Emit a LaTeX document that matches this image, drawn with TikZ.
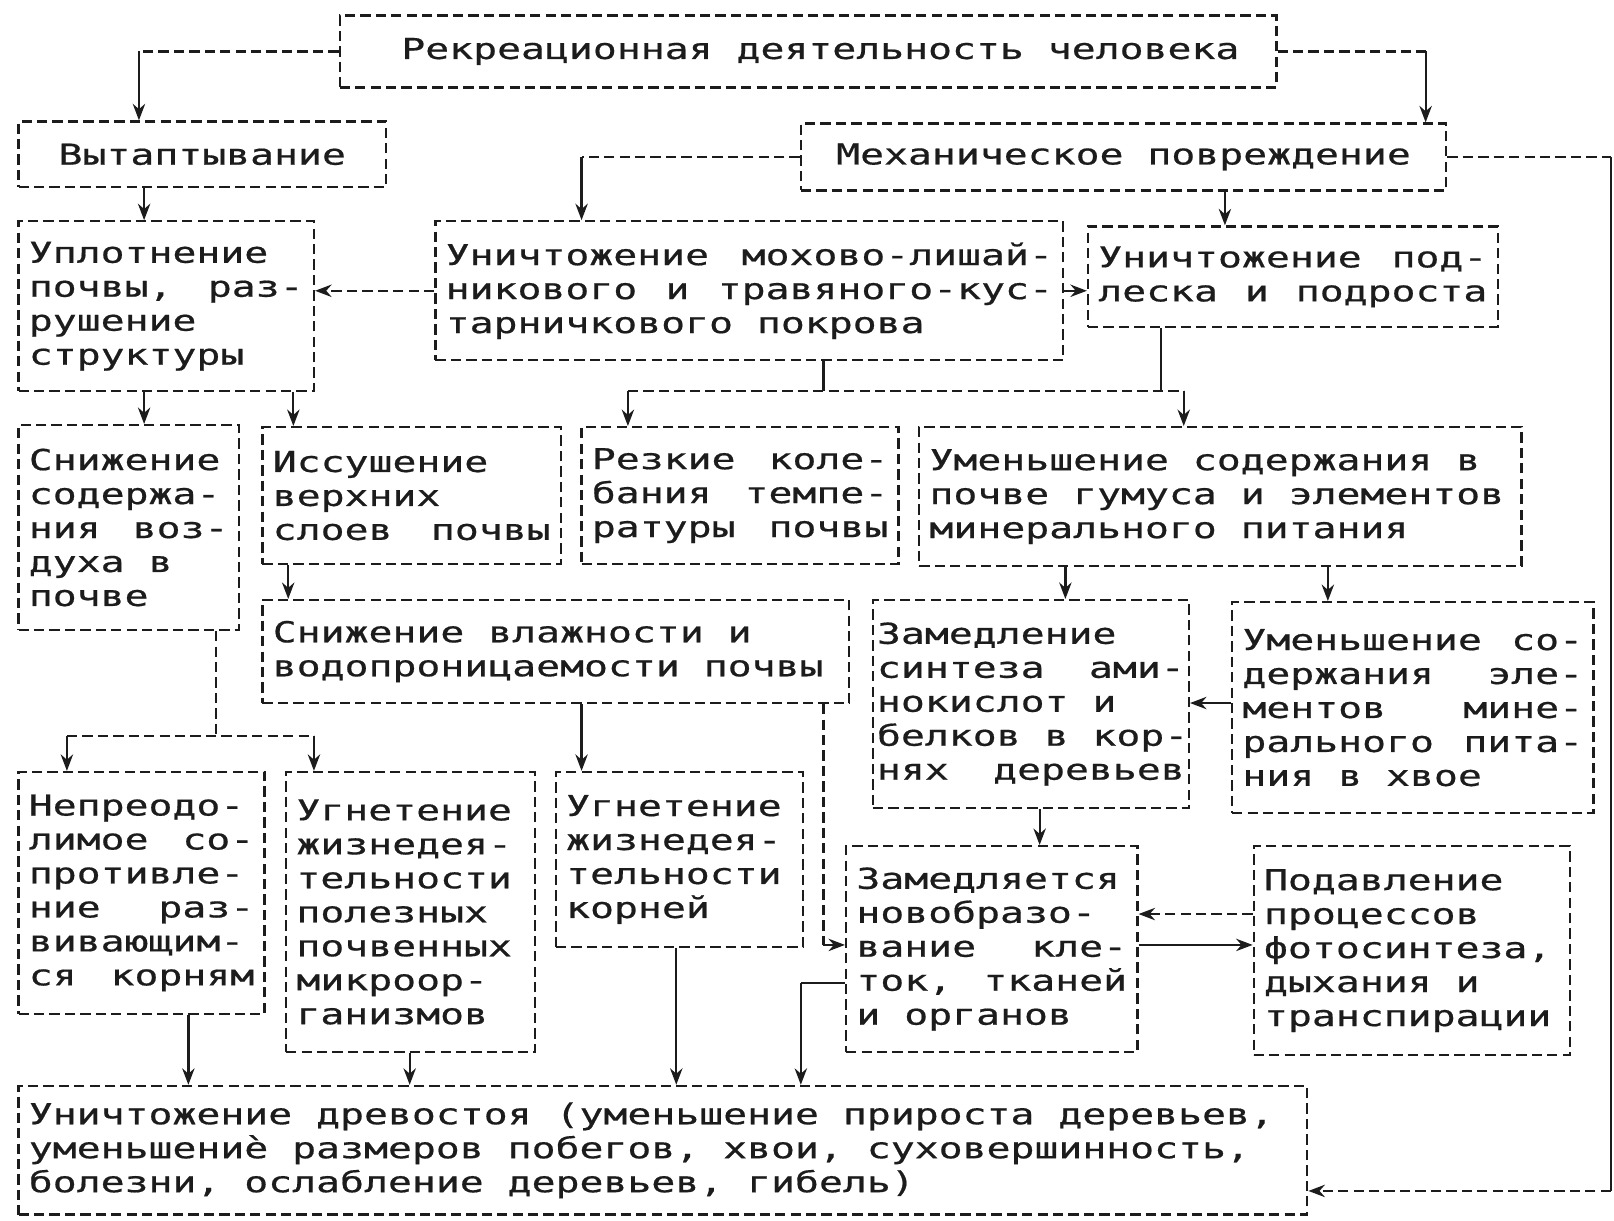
\documentclass[tikz,border=0pt]{standalone}
\usepackage{fontspec}
\newfontfamily\monofam[FakeStretch=1.38,FakeBold=0.6]{DejaVu Sans Mono}
\usetikzlibrary{arrows.meta}
\definecolor{ink}{HTML}{1C1C1C}
\newcommand\boxfont{\monofam\fontsize{14pt}{16.5pt}\selectfont}
\newcommand\setsp{\spaceskip=\fontcharwd\font`\a\relax\xspaceskip=\spaceskip}
\newcommand\J[1]{\noindent\hbox to \linewidth{\spaceskip=\fontcharwd\font`\a plus 1fil\relax\xspaceskip=\spaceskip #1}}
\begin{document}
\begin{tikzpicture}[x=0.5pt,y=-0.5pt,
  box/.style={draw=ink, line width=1.1pt, dash pattern=on 5pt off 2.5pt,
    inner xsep=5pt, inner ysep=0pt, text=ink, align=left, font=\boxfont,
    execute at begin node=\setsp},
  cbox/.style={box, align=center},
  bx/.style n args={3}{minimum width=#1pt, minimum height=#2pt, text width=#3pt},
  cb/.style n args={2}{minimum width=#1pt, minimum height=#2pt},
  ln/.style={draw=ink, line width=1.1pt},
  dl/.style={ln, dash pattern=on 5pt off 2.5pt},
  ar/.style={ln, -{Stealth[length=8pt,width=6pt]}},
  dar/.style={dl, -{Stealth[length=8pt,width=6pt]}}]
\useasboundingbox (0,0) rectangle (1568,1186);
\fill[white] (0,0) rectangle (1568,1186);

% boxes
\node[cbox, cb={455}{35}] (top) at (785,50) {\hspace*{12pt}Рекреационная деятельность человека};
\node[cbox, cb={178.5}{32}] (vyt) at (196.5,150) {Вытаптывание};
\node[cbox, cb={313.5}{32.5}] (meh) at (1091.5,152.5) {Механическое повреждение};
\node[box, bx={143.5}{82.5}{133.5}] (upl) at (161.5,297.5) {Уплотнение\\\J{почвы, раз-}\\рушение\\структуры};
\node[box, bx={305}{67.5}{295}] (moh) at (728,282.5) {\J{Уничтожение мохово-лишай-}\\\J{никового и травяного-кус-}\\тарничкового покрова};
\node[box, bx={199}{49}{189}] (podl) at (1256,269) {\J{Уничтожение под-}\\\J{леска и подроста}};
\node[box, bx={107}{99.5}{97}] (vozd) at (125,512.5) {Снижение\\содержа-\\\J{ния воз-}\\духа в\\почве};
\node[box, bx={145}{66.5}{135}] (iss) at (400,481.5) {Иссушение\\верхних\\\J{слоев почвы}};
\node[box, bx={154}{66.5}{144}] (temp) at (719,481.5) {\J{Резкие коле-}\\\J{бания темпе-}\\\J{ратуры почвы}};
\node[box, bx={292.5}{67.5}{282.5}] (gum) at (1185.5,482.5) {Уменьшение содержания в\\почве гумуса и элементов\\минерального питания};
\node[box, bx={285}{50}{275}] (vlazh) at (540,633) {Снижение влажности и\\водопроницаемости почвы};
\node[box, bx={153.5}{101}{149.5}, inner xsep=2pt] (sint) at (1001.5,684) {Замедление\\\J{синтеза ами-}\\нокислот и\\\J{белков в кор-}\\\J{нях деревьев}};
\node[box, bx={175.5}{102.5}{165.5}] (hvoya) at (1372.5,687.5) {\J{Уменьшение со-}\\\J{держания эле-}\\\J{ментов мине-}\\\J{рального пита-}\\ния в хвое};
\node[box, bx={119.5}{117.5}{109.5}] (nepr) at (137.5,867.5) {Непреодо-\\\J{лимое со-}\\\J{противле-}\\\J{ние раз-}\\\J{вивающим-}\\\J{ся корням}};
\node[box, bx={121}{136}{111}] (mikro) at (399,886) {Угнетение\\жизнедея-\\тельности\\полезных\\почвенных\\микроор-\\ганизмов};
\node[box, bx={120}{85}{110}] (korn) at (660,835) {Угнетение\\жизнедея-\\тельности\\корней};
\node[box, bx={141.5}{100}{131.5}] (kletki) at (963.5,922) {Замедляется\\новобразо-\\\J{вание кле-}\\\J{ток, тканей}\\и органов};
\node[box, bx={153.5}{101.5}{143.5}] (foto) at (1371.5,923.5) {Подавление\\процессов\\фотосинтеза,\\дыхания и\\транспирации};
\node[box, bx={626}{62.5}{616}] (drev) at (644,1117.5) {Уничтожение древостоя (уменьшение прироста деревьев,\\уменьшениѐ размеров побегов, хвои, суховершинность,\\болезни, ослабление деревьев, гибель)};

% helper coordinates
\coordinate (c1) at (135,50);
\coordinate (c2) at (1385,50);
\coordinate (c3) at (565,152.5);
\coordinate (c4) at (1565,152.5);
\coordinate (c5) at (1565,1157);
\coordinate (x140) at (140,0);
\coordinate (x285) at (285,0);
\coordinate (x1190) at (1190,0);
\coordinate (j1) at (800,380);
\coordinate (j2) at (1128,380);
\coordinate (j3) at (610,380);
\coordinate (j4) at (1150,380);
\coordinate (x280) at (280,0);
\coordinate (x1035) at (1035,0);
\coordinate (x1290) at (1290,0);
\coordinate (y683) at (0,683);
\coordinate (n1) at (210,715);
\coordinate (n2) at (65,715);
\coordinate (n3) at (305,715);
\coordinate (x565) at (565,0);
\coordinate (p1) at (800,918);
\coordinate (x1010) at (1010,0);
\coordinate (y888) at (0,888);
\coordinate (t1) at (778,955);
\coordinate (x183) at (183,0);
\coordinate (x398) at (398,0);
\coordinate (x657) at (657,0);

% connectors
\draw[dl] (top.west) -- (c1);
\draw[ar] (c1) -- (c1 |- vyt.north);
\draw[dl] (top.east) -- (c2);
\draw[ar] (c2) -- (c2 |- meh.north);
\draw[ar] (x140 |- vyt.south) -- (x140 |- upl.north);
\draw[dl] (meh.west) -- (c3);
\draw[ar] (c3) -- (c3 |- moh.north);
\draw[ar] (x1190 |- meh.south) -- (x1190 |- podl.north);
\draw[dl] (meh.east) -- (c4);
\draw[ln] (c4) -- (c5);
\draw[dar] (c5) -- (c5 -| drev.east);
\draw[dar] (moh.west) -- (moh.west -| upl.east);
\draw[ar] (moh.east) -- (moh.east -| podl.west);
\draw[ar] (x140 |- upl.south) -- (x140 |- vozd.north);
\draw[ar] (x285 |- upl.south) -- (x285 |- iss.north);
\draw[ln] (j1 |- moh.south) -- (j1);
\draw[ln] (j2 |- podl.south) -- (j2);
\draw[dl] (j3) -- (j4);
\draw[ar] (j3) -- (j3 |- temp.north);
\draw[ar] (j4) -- (j4 |- gum.north);
\draw[ar] (x280 |- iss.south) -- (x280 |- vlazh.north);
\draw[ar] (x1035 |- gum.south) -- (x1035 |- sint.north);
\draw[ar] (x1290 |- gum.south) -- (x1290 |- hvoya.north);
\draw[ar] (hvoya.west |- y683) -- (sint.east |- y683);
\draw[dl] (n1 |- vozd.south) -- (n1);
\draw[dl] (n2) -- (n3);
\draw[ar] (n2) -- (n2 |- nepr.north);
\draw[ar] (n3) -- (n3 |- mikro.north);
\draw[ar] (x565 |- vlazh.south) -- (x565 |- korn.north);
\draw[dl] (p1 |- vlazh.south) -- (p1);
\draw[ar] (p1) -- (p1 -| kletki.west);
\draw[ar] (x1010 |- sint.south) -- (x1010 |- kletki.north);
\draw[dar] (foto.west |- y888) -- (kletki.east |- y888);
\draw[ar] (kletki.east |- p1) -- (foto.west |- p1);
\draw[ln] (kletki.west |- t1) -- (t1);
\draw[ar] (t1) -- (t1 |- drev.north);
\draw[ar] (x183 |- nepr.south) -- (x183 |- drev.north);
\draw[ar] (x398 |- mikro.south) -- (x398 |- drev.north);
\draw[ar] (x657 |- korn.south) -- (x657 |- drev.north);
\end{tikzpicture}
\end{document}
